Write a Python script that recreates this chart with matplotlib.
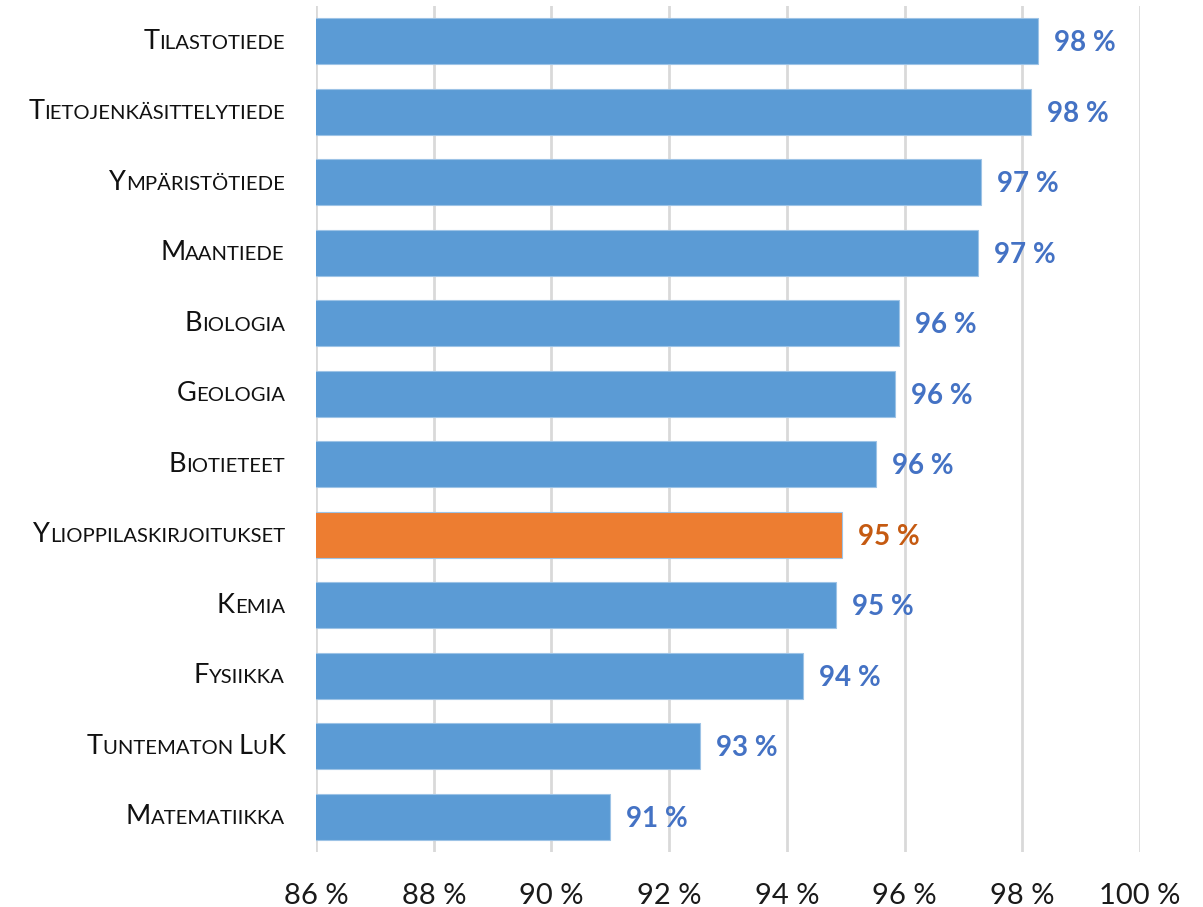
import matplotlib
matplotlib.use("Agg")
import matplotlib.pyplot as plt
from matplotlib.offsetbox import TextArea, HPacker, AnnotationBbox

plt.rcParams['font.family'] = ['Lato', 'DejaVu Sans']

# data (top -> bottom)
aineet = ["Tilastotiede", "Tietojenkäsittelytiede", "Ympäristötiede", "Maantiede",
          "Biologia", "Geologia", "Biotieteet", "Ylioppilaskirjoitukset",
          "Kemia", "Fysiikka", "Tuntematon LuK", "Matematiikka"]
osuus = [98.27, 98.15, 97.30, 97.25, 95.90, 95.84, 95.52, 94.94, 94.83, 94.27, 92.52, 90.99]
korostus = "Ylioppilaskirjoitukset"
xtikit = [86, 88, 90, 92, 94, 96, 98, 100]

sininen = "#5B9BD5"
oranssi = "#ED7D31"
sininen_teksti = "#4472C4"
oranssi_teksti = "#C55A11"

fig = plt.figure(figsize=(12.03, 9.07), dpi=100)
ax = fig.add_axes([0.2627, 0.0606, 0.685, 0.9328])

y = list(range(len(aineet)))
varit = [oranssi if a == korostus else sininen for a in aineet]
ax.barh(y, osuus, height=0.65, color=varit, left=0, edgecolor="#9dc3e6", linewidth=0.8)

ax.set_xlim(86, 100)
ax.set_ylim(len(aineet) - 0.5, -0.5)
ax.set_xticks(xtikit)
ax.set_xticklabels([f"{t} %" for t in xtikit], fontsize=21, color="#1a1a1a")
ax.tick_params(axis="x", length=0, pad=22)
ax.set_yticks([])
ax.grid(axis="x", color="#d9d9d9", linewidth=2)
ax.set_axisbelow(True)
for s in ax.spines.values():
    s.set_visible(False)

# arvot palkkien perään
for i, (a, v) in enumerate(zip(aineet, osuus)):
    c = oranssi_teksti if a == korostus else sininen_teksti
    ax.annotate(f"{v:.0f} %", xy=(v, i), xytext=(16, -2), textcoords="offset pixels",
                ha="left", va="center", fontsize=20, fontweight="bold", color=c)

# kapiteelit (small caps) nimille
def kapiteeli(teksti):
    osat = []
    for ch in teksti:
        iso = ch.isupper()
        if osat and osat[-1][1] == iso:
            osat[-1][0] += ch
        else:
            osat.append([ch, iso])
    laatikot = []
    for t, iso in osat:
        koko = 19.5 if iso else 14.6
        laatikot.append(TextArea(t.upper(), textprops=dict(fontsize=koko, color="#111111")))
    return HPacker(children=laatikot, align="baseline", pad=0, sep=0)

for i, a in enumerate(aineet):
    ab = AnnotationBbox(kapiteeli(a), xy=(0, i), xycoords=("axes fraction", "data"),
                        xybox=(-31, 0), boxcoords="offset pixels", box_alignment=(1, 0.5),
                        frameon=False, pad=0)
    ax.add_artist(ab)

fig.savefig("out.png", dpi=100)
